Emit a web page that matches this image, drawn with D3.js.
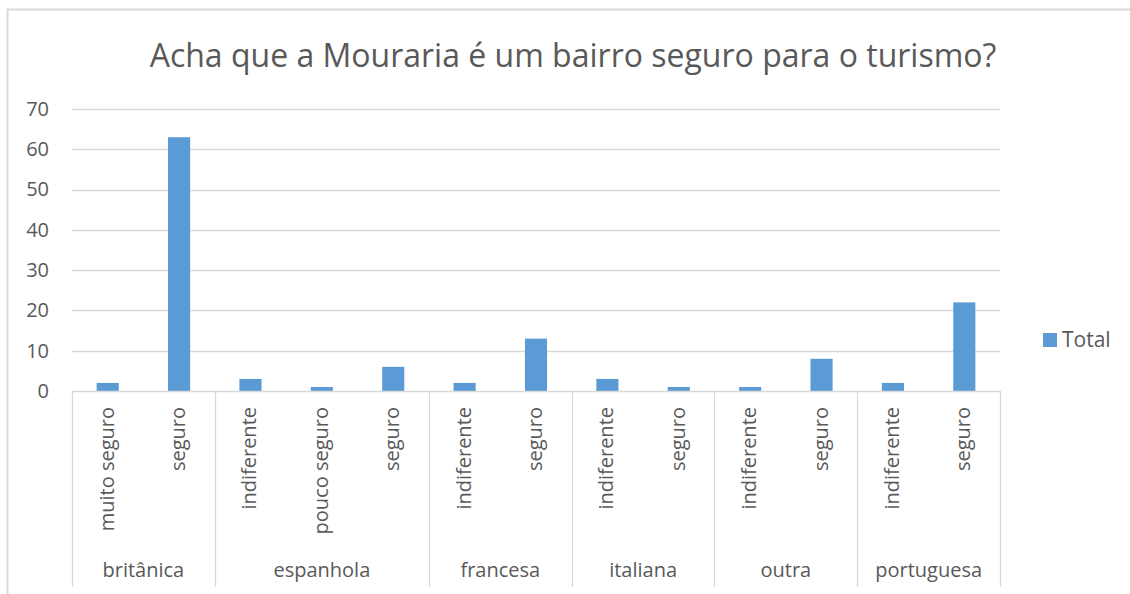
<!DOCTYPE html>
<html>
<head>
<meta charset="utf-8">
<script src="https://cdn.jsdelivr.net/npm/d3@7"></script>
<style>
  body { margin: 0; background: #fff; }
  text { font-family: 'Open Sans', sans-serif; fill: #595959; }
</style>
</head>
<body>
<div id="chart"></div>
<script>
'use strict'

// Data
//-------
var groups = ['britânica', 'espanhola', 'francesa', 'italiana', 'outra', 'portuguesa']
var group_sizes = [2, 3, 2, 2, 2, 2]
var categories = ['muito seguro', 'seguro',
  'indiferente', 'pouco seguro', 'seguro',
  'indiferente', 'seguro',
  'indiferente', 'seguro',
  'indiferente', 'seguro',
  'indiferente', 'seguro']
var totals = [2, 63, 3, 1, 6, 2, 13, 3, 1, 1, 8, 2, 22]
var y_ticks = [0, 10, 20, 30, 40, 50, 60, 70]

var W = 1130, H = 594
var margin = {top: 109, right: 130, bottom: 203, left: 72}
var width = W - margin.left - margin.right
var height = H - margin.top - margin.bottom
var grid_col = '#d9d9d9'
var bar_col = '#5b9bd5'

var svg = d3.select('#chart').append('svg')
  .attr('width', W)
  .attr('height', H)

// outer frame (only top and left visible)
svg.append('path')
  .attr('d', 'M7.5,' + H + 'V9.5H' + W)
  .attr('fill', 'none')
  .attr('stroke', grid_col)
  .attr('stroke-width', 2)

// title
svg.append('text')
  .attr('x', 573)
  .attr('y', 67)
  .attr('text-anchor', 'middle')
  .style('font-size', '32px')
  .text('Acha que a Mouraria é um bairro seguro para o turismo?')

var g = svg.append('g')
  .attr('transform', 'translate(' + margin.left + ',' + margin.top + ')')

var idx = d3.range(categories.length)
var scale_x = d3.scaleBand()
  .domain(idx)
  .range([0, width])
  .paddingInner(0.69)
  .paddingOuter(0.345)

var scale_y = d3.scaleLinear()
  .domain([0, 70])
  .range([height, 0])

// gridlines
g.append('g')
  .selectAll('line')
  .data(y_ticks.slice(1))
  .enter().append('line')
  .attr('x1', 0)
  .attr('x2', width)
  .attr('y1', function(d) { return Math.round(scale_y(d)) + 0.5 })
  .attr('y2', function(d) { return Math.round(scale_y(d)) + 0.5 })
  .attr('stroke', grid_col)
  .attr('stroke-width', 1.3)

// y axis labels
var yAxis = d3.axisLeft(scale_y)
  .tickValues(y_ticks)
  .tickSize(0)
  .tickPadding(23)
var ya = g.append('g').call(yAxis)
ya.select('.domain').remove()
ya.selectAll('text')
  .style('font-family', "'Open Sans', sans-serif")
  .style('font-size', '20px')
  .style('fill', '#595959')

// bars
g.selectAll('rect.bar')
  .data(totals)
  .enter().append('rect')
  .attr('class', 'bar')
  .attr('x', function(d, i) { return scale_x(i) })
  .attr('width', scale_x.bandwidth())
  .attr('y', function(d) { return scale_y(d) })
  .attr('height', function(d) { return height - scale_y(d) })
  .attr('fill', bar_col)

// x axis line
g.append('line')
  .attr('x1', 0).attr('x2', width)
  .attr('y1', height + 0.5).attr('y2', height + 0.5)
  .attr('stroke', grid_col)
  .attr('stroke-width', 1.3)

// group separators
var step = scale_x.step()
var bounds = [0]
group_sizes.forEach(function(n, i) { bounds.push(bounds[i] + n) })
g.append('g')
  .selectAll('line')
  .data(bounds)
  .enter().append('line')
  .attr('x1', function(d) { return Math.round(d * step) + 0.5 })
  .attr('x2', function(d) { return Math.round(d * step) + 0.5 })
  .attr('y1', height)
  .attr('y2', H - margin.top - 7)
  .attr('stroke', grid_col)
  .attr('stroke-width', 1.3)

// category labels (rotated)
g.append('g')
  .selectAll('text')
  .data(categories)
  .enter().append('text')
  .attr('transform', function(d, i) {
    return 'translate(' + (scale_x(i) + scale_x.bandwidth() / 2 + 6) + ',' + (height + 16) + ') rotate(-90)'
  })
  .attr('text-anchor', 'end')
  .style('font-size', '20px')
  .text(function(d) { return d })

// group labels
g.append('g')
  .selectAll('text')
  .data(groups)
  .enter().append('text')
  .attr('x', function(d, i) { return (bounds[i] + bounds[i + 1]) / 2 * step })
  .attr('y', height + 186)
  .attr('text-anchor', 'middle')
  .style('font-size', '20px')
  .text(function(d) { return d })

// legend
var lg = svg.append('g')
  .attr('transform', 'translate(1043,333)')
lg.append('rect')
  .attr('width', 14).attr('height', 14)
  .attr('fill', bar_col)
lg.append('text')
  .attr('x', 19).attr('y', 14)
  .style('font-size', '21px')
  .text('Total')
</script>
</body>
</html>
